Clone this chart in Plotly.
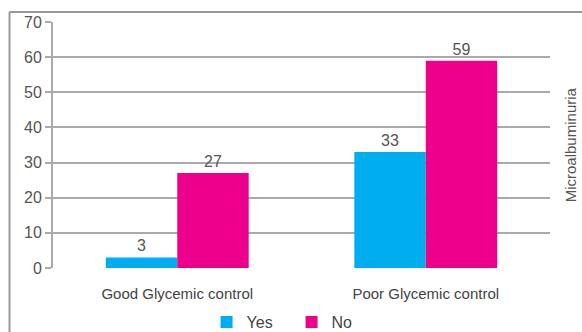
import plotly.graph_objects as go

categories = ["Good Glycemic control", "Poor Glycemic control"]
yes_values = [3, 33]
no_values = [27, 59]
series_names = ["Yes", "No"]
y_ticks = [0, 10, 20, 30, 40, 50, 60, 70]

fig = go.Figure()
fig.add_trace(go.Bar(
    x=categories, y=yes_values, name=series_names[0],
    marker=dict(color="#00AEEF", line=dict(width=0)),
    text=[str(v) for v in yes_values], textposition="outside",
    textfont=dict(family="Liberation Sans, Arial", size=16, color="#555555"),
    cliponaxis=False,
))
fig.add_trace(go.Bar(
    x=categories, y=no_values, name=series_names[1],
    marker=dict(color="#EC008C", line=dict(width=0)),
    text=[str(v) for v in no_values], textposition="outside",
    textfont=dict(family="Liberation Sans, Arial", size=16, color="#555555"),
    cliponaxis=False,
))

fig.update_layout(
    width=582, height=332,
    margin=dict(l=53, r=32, t=22, b=64, autoexpand=False),
    paper_bgcolor="white", plot_bgcolor="white",
    barmode="group", bargap=0.425, bargroupgap=0,
    font=dict(family="Liberation Sans, Arial", color="#555555"),
    showlegend=True,
    legend=dict(orientation="h", x=0.48, xanchor="center", y=-0.22, yanchor="middle",
                font=dict(size=16, color="#444444"), itemwidth=30, traceorder="normal",
                entrywidth=40, entrywidthmode="pixels"),
    xaxis=dict(showgrid=False, showline=False, ticks="", tickfont=dict(size=15, color="#444444"),
               ticklabelstandoff=15, automargin=False),
    yaxis=dict(range=[0, 70], tickvals=y_ticks, showgrid=True, gridcolor="#AAAAAA", gridwidth=1.5,
               showline=True, linecolor="#AAAAAA", linewidth=2, ticks="outside", ticklen=6,
               tickcolor="#AAAAAA", tickwidth=1.5, tickfont=dict(size=16, color="#555555"),
               zeroline=False, automargin=False),
    annotations=[dict(text="Microalbuminuria", xref="paper", yref="paper", x=1.062, y=0.5,
                      textangle=-90, showarrow=False, font=dict(size=15, color="#555555"))],
    shapes=[
        dict(type="line", xref="paper", yref="paper", x0=-0.0875, x1=-0.0875, y0=1.0407, y1=-0.27,
             line=dict(color="#999999", width=2)),
        dict(type="line", xref="paper", yref="paper", x0=-0.0875, x1=1.07, y0=1.0407, y1=1.0407,
             line=dict(color="#999999", width=2)),
    ],
)

fig.write_html("out.html")
